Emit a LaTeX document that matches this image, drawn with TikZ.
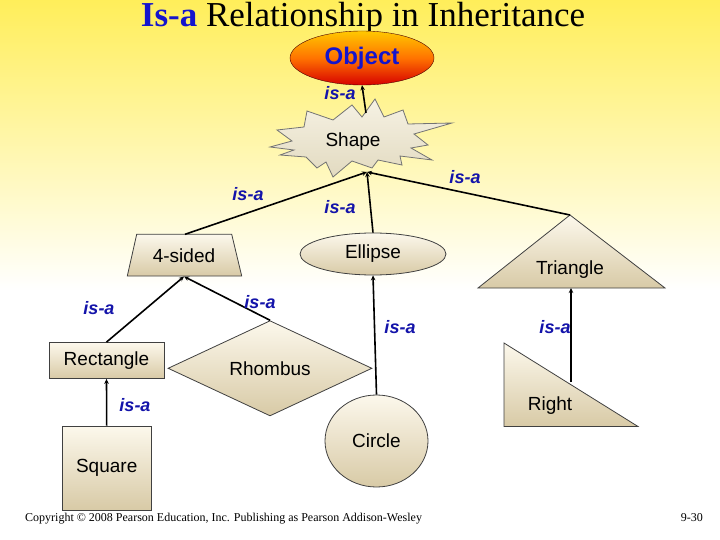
\documentclass[tikz,border=0pt]{standalone}
\usepackage{fontspec}
\setmainfont{Liberation Serif}
\setsansfont{Liberation Sans}
\usetikzlibrary{shapes.geometric,arrows.meta}
\definecolor{bgY}{RGB}{255,238,90}
\definecolor{beigeT}{RGB}{252,248,236}
\definecolor{beigeB}{RGB}{216,202,166}
\definecolor{isablue}{RGB}{20,20,170}
\definecolor{titleblue}{RGB}{20,20,205}
\definecolor{objtop}{RGB}{255,200,0}
\definecolor{objmid}{RGB}{255,115,0}
\definecolor{objbot}{RGB}{215,0,0}
\definecolor{starT}{RGB}{246,242,228}
\definecolor{starB}{RGB}{226,218,192}
\tikzset{
  fig/.style={top color=beigeT, bottom color=beigeB, draw=black!75, line width=0.8pt},
  lbl/.style={font=\sffamily\fontsize{19}{22}\selectfont, inner sep=0},
  isa/.style={font=\sffamily\bfseries\itshape\fontsize{18}{20}\selectfont, text=isablue, inner sep=0},
  link/.style={line width=1.6pt, -{Stealth[length=5pt,width=4.5pt]}},
}
\begin{document}
\begin{tikzpicture}[x=1pt,y=-1pt]
\useasboundingbox (0,0) rectangle (720,540);
\fill[white] (0,0) rectangle (720,540);
\shade[top color=bgY, bottom color=white] (0,0) rectangle (720,290);

% title
\node[font=\fontsize{35}{40}\selectfont, anchor=base, inner sep=0] (title) at (363,27)
  {\textcolor{titleblue}{\bfseries Is-a} Relationship in Inheritance};

% Object
\node[ellipse, minimum width=144, minimum height=54, inner sep=0, draw=black!70!red,
  top color=objtop, bottom color=objbot, middle color=objmid,
  font=\sffamily\bfseries\fontsize{24}{26}\selectfont, text=titleblue] (obj) at (362,58) {Object};

% Shape (starburst)
\shade[top color=starT, bottom color=starB, draw=black!55, line width=0.8pt]
  (270,147) -- (292,141) -- (277,130) -- (304,127) -- (307,111) -- (333,120) -- (352,105)
  -- (362,117) -- (375,99) -- (384,117) -- (403,110) -- (408,124) -- (452,123) -- (414,134)
  -- (428,145) -- (411,148) -- (432,160) -- (400,156) -- (402,165) -- (378,160) -- (372,168)
  -- (352,161) -- (333,177) -- (326,162) -- (317,168) -- (306,157) -- (280,155) -- (294,150) -- cycle;
\node[lbl] (shape) at (353,142) {Shape};
\coordinate (shapeTop) at (366,113);
\coordinate (j) at (367,172);

% 4-sided
\shade[fig] (136.7,234.3) -- (231.7,234.3) -- (241.7,276) -- (127.3,276) -- cycle;
\node[lbl] (fours) at (184,256) {4-sided};
\coordinate (foursTop) at (185,234.3);
\coordinate (foursBot) at (184,276.5);

% Ellipse
\node[ellipse, fig, minimum width=146, minimum height=42, inner sep=0, lbl] (ell) at (373,254) {Ellipse};

% Triangle
\shade[fig] (570,215) -- (665,288) -- (478,288) -- cycle;
\node[lbl] (tri) at (570,270) {Triangle};
\coordinate (triApex) at (570,215);
\coordinate (triBase) at (571,288);

% Rectangle
\node[rectangle, fig, minimum width=115, minimum height=36, inner sep=0, lbl] (rect) at (106.5,360.5) {Rectangle};

% Rhombus
\node[diamond, fig, minimum width=204, minimum height=65, inner sep=0, lbl] (rhom) at (270,368.3) {Rhombus};

% Circle
\node[ellipse, fig, minimum width=103, minimum height=92, inner sep=0, lbl] (circ) at (376.5,441) {Circle};

% Right
\shade[fig] (504,343) -- (504,426.5) -- (638,426.5) -- cycle;
\node[lbl] (right) at (550,406) {Right};
\coordinate (rightTop) at (571,382);

% Square
\node[rectangle, fig, minimum width=88.5, minimum height=84, inner sep=0, lbl] (sq) at (106.7,468) {Square};

% connectors
\draw[link] (shapeTop) -- (obj.south);
\draw[link] (foursTop) -- (j);
\draw[link] (ell.north) -- (j);
\draw[link] (triApex) -- (j);
\draw[link] (rect.north) -- (foursBot);
\draw[link] (rhom.north) -- (foursBot);
\draw[link] (circ.north) -- (ell.south);
\draw[link] (rightTop) -- (triBase);
\draw[link] (sq.north) -- (rect.south);

% is-a labels
\node[isa] (l1) at (340,93) {is-a};
\node[isa] (l2) at (248,194) {is-a};
\node[isa] (l3) at (340,207) {is-a};
\node[isa] (l4) at (465,177) {is-a};
\node[isa] (l5) at (99,308) {is-a};
\node[isa] (l6) at (260,302) {is-a};
\node[isa] (l7) at (400,327) {is-a};
\node[isa] (l8) at (555,327) {is-a};
\node[isa] (l9) at (135,405) {is-a};

% footer
\node[anchor=base west, inner sep=0, font=\fontsize{12}{14}\selectfont] (copy) at (25,521)
  {Copyright © 2008 Pearson Education, Inc. Publishing as Pearson Addison-Wesley};
\node[anchor=base east, inner sep=0, font=\fontsize{12}{14}\selectfont] (page) at (703,521) {9-30};
\end{tikzpicture}
\end{document}
